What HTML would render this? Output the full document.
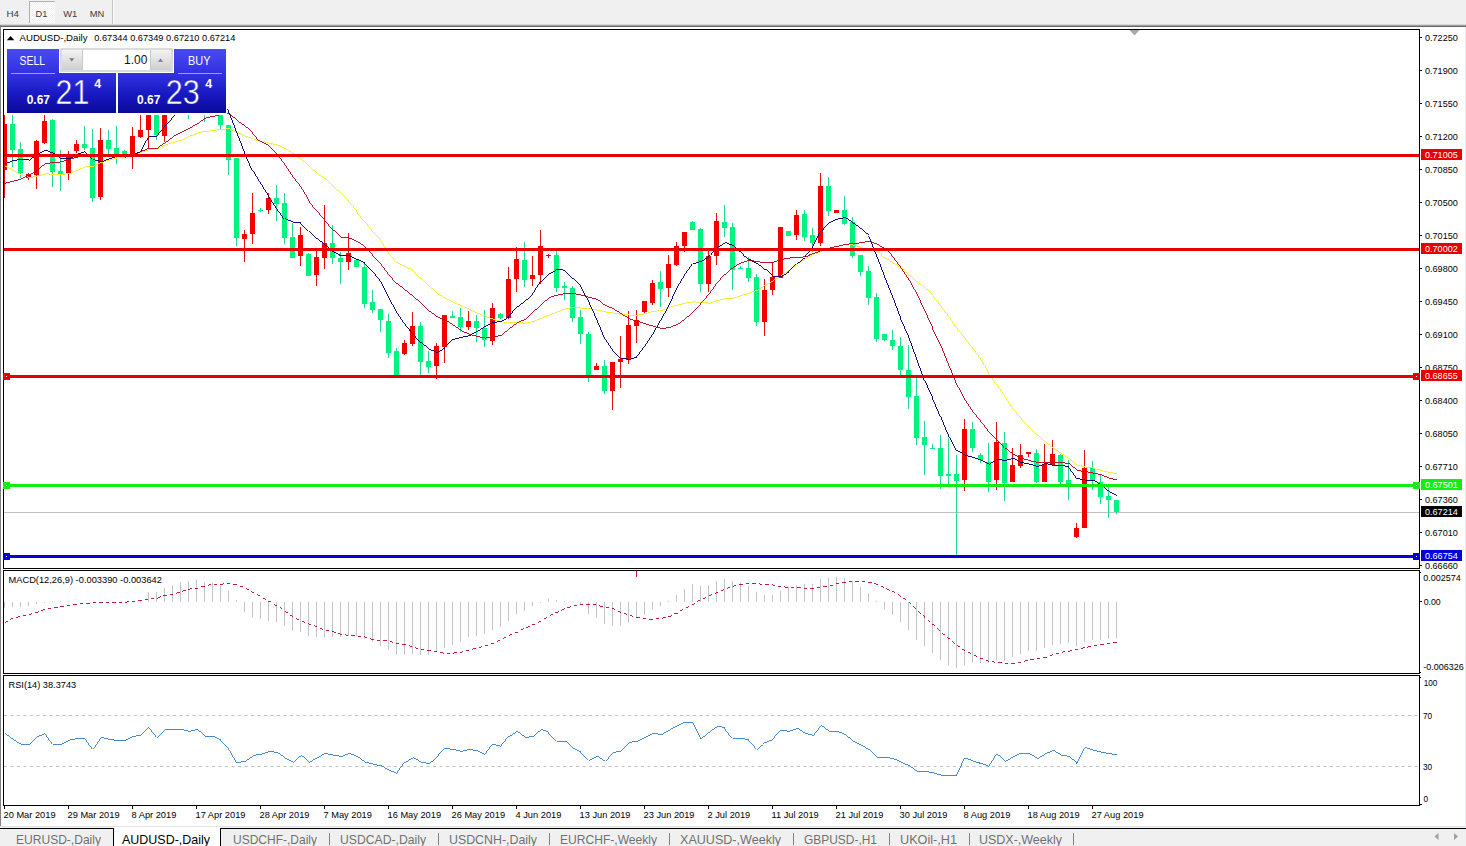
<!DOCTYPE html>
<html><head><meta charset="utf-8"><title>AUDUSD-,Daily</title>
<style>html,body{margin:0;padding:0;background:#fff;overflow:hidden}svg{display:block}text{font-family:"Liberation Sans",sans-serif;white-space:pre}</style></head>
<body>
<svg width="1466" height="846" viewBox="0 0 1466 846" font-family='"Liberation Sans", sans-serif'>
<rect x="0" y="0" width="1466" height="846" fill="#fff"/>
<rect x="0" y="0" width="1466" height="25" fill="#F0F0F0"/>
<pattern id="ck" width="2" height="2" patternUnits="userSpaceOnUse"><rect width="2" height="2" fill="#F0F0F0"/><rect width="1" height="1" fill="#fff"/><rect x="1" y="1" width="1" height="1" fill="#fff"/></pattern>
<rect x="29" y="1" width="26" height="22" fill="url(#ck)"/>
<rect x="29" y="1" width="26" height="1" fill="#B0B0B0"/>
<rect x="29" y="1" width="1" height="22" fill="#B0B0B0"/>
<rect x="112" y="0" width="1" height="24" fill="#C4C4C4"/>
<rect x="113" y="0" width="1" height="24" fill="#FAFAFA"/>
<text x="6.5" y="17" font-size="9.4" fill="#3a3a3a" textLength="12.5" lengthAdjust="spacingAndGlyphs">H4</text>
<text x="35.5" y="17" font-size="9.4" fill="#3a3a3a" textLength="11.8" lengthAdjust="spacingAndGlyphs">D1</text>
<text x="63.3" y="17" font-size="9.4" fill="#3a3a3a" textLength="14" lengthAdjust="spacingAndGlyphs">W1</text>
<text x="89.8" y="17" font-size="9.4" fill="#3a3a3a" textLength="14.5" lengthAdjust="spacingAndGlyphs">MN</text>
<rect x="0" y="24" width="1466" height="1" fill="#D8D8D8"/>
<rect x="0" y="25" width="1466" height="1" fill="#A0A0A0"/>
<rect x="0" y="26" width="1466" height="1" fill="#696969"/>
<rect x="0" y="25" width="1" height="802" fill="#808080"/>
<rect x="1465" y="27" width="1" height="800" fill="#E6E9EC"/>
<rect x="3" y="29" width="1417" height="1" fill="#000"/>
<rect x="3" y="568" width="1417" height="1" fill="#000"/>
<rect x="3" y="29" width="1" height="540" fill="#000"/>
<rect x="1419" y="29" width="1" height="540" fill="#000"/>
<rect x="3" y="570" width="1417" height="1" fill="#000"/>
<rect x="3" y="673" width="1417" height="1" fill="#000"/>
<rect x="3" y="570" width="1" height="104" fill="#000"/>
<rect x="1419" y="570" width="1" height="104" fill="#000"/>
<rect x="3" y="675" width="1417" height="1" fill="#000"/>
<rect x="3" y="805" width="1417" height="1" fill="#000"/>
<rect x="3" y="675" width="1" height="131" fill="#000"/>
<rect x="1419" y="675" width="1" height="131" fill="#000"/>
<clipPath id="cm"><rect x="4" y="30" width="1415" height="538"/></clipPath>
<g clip-path="url(#cm)">
<rect x="4" y="512" width="1415" height="1" fill="#C0C0C0"/>
<g shape-rendering="crispEdges">
<rect x="4" y="109" width="1" height="89" fill="#E01010"/>
<rect x="2" y="124" width="5" height="46" fill="#F40000"/>
<rect x="12" y="115" width="1" height="52" fill="#22DC8C"/>
<rect x="10" y="124" width="5" height="26" fill="#02F47E"/>
<rect x="20" y="142" width="1" height="36" fill="#22DC8C"/>
<rect x="18" y="149" width="5" height="24" fill="#02F47E"/>
<rect x="28" y="173" width="1" height="7" fill="#E01010"/>
<rect x="26" y="174" width="5" height="4" fill="#F40000"/>
<rect x="36" y="140" width="1" height="49" fill="#E01010"/>
<rect x="34" y="141" width="5" height="34" fill="#F40000"/>
<rect x="44" y="115" width="1" height="29" fill="#E01010"/>
<rect x="42" y="121" width="5" height="22" fill="#F40000"/>
<rect x="52" y="119" width="1" height="68" fill="#22DC8C"/>
<rect x="50" y="120" width="5" height="52" fill="#02F47E"/>
<rect x="60" y="150" width="1" height="41" fill="#22DC8C"/>
<rect x="58" y="171" width="5" height="3" fill="#02F47E"/>
<rect x="68" y="151" width="1" height="29" fill="#E01010"/>
<rect x="66" y="157" width="5" height="17" fill="#F40000"/>
<rect x="76" y="140" width="1" height="13" fill="#E01010"/>
<rect x="74" y="144" width="5" height="7" fill="#F40000"/>
<rect x="84" y="126" width="1" height="24" fill="#22DC8C"/>
<rect x="82" y="144" width="5" height="4" fill="#02F47E"/>
<rect x="92" y="129" width="1" height="73" fill="#22DC8C"/>
<rect x="90" y="148" width="5" height="50" fill="#02F47E"/>
<rect x="100" y="128" width="1" height="72" fill="#E01010"/>
<rect x="98" y="140" width="5" height="57" fill="#F40000"/>
<rect x="108" y="130" width="1" height="24" fill="#22DC8C"/>
<rect x="106" y="140" width="5" height="9" fill="#02F47E"/>
<rect x="116" y="126" width="1" height="38" fill="#22DC8C"/>
<rect x="114" y="148" width="5" height="8" fill="#02F47E"/>
<rect x="124" y="150" width="1" height="5" fill="#22DC8C"/>
<rect x="122" y="151" width="5" height="3" fill="#02F47E"/>
<rect x="132" y="127" width="1" height="42" fill="#E01010"/>
<rect x="130" y="136" width="5" height="20" fill="#F40000"/>
<rect x="140" y="113" width="1" height="25" fill="#E01010"/>
<rect x="138" y="130" width="5" height="7" fill="#F40000"/>
<rect x="148" y="100" width="1" height="48" fill="#E01010"/>
<rect x="146" y="105" width="5" height="25" fill="#F40000"/>
<rect x="156" y="100" width="1" height="40" fill="#22DC8C"/>
<rect x="154" y="104" width="5" height="31" fill="#02F47E"/>
<rect x="164" y="100" width="1" height="42" fill="#E01010"/>
<rect x="162" y="102" width="5" height="34" fill="#F40000"/>
<rect x="172" y="90" width="1" height="22" fill="#E01010"/>
<rect x="170" y="95" width="5" height="13" fill="#F40000"/>
<rect x="180" y="85" width="1" height="28" fill="#22DC8C"/>
<rect x="178" y="90" width="5" height="20" fill="#02F47E"/>
<rect x="188" y="85" width="1" height="34" fill="#22DC8C"/>
<rect x="186" y="90" width="5" height="18" fill="#02F47E"/>
<rect x="196" y="85" width="1" height="27" fill="#22DC8C"/>
<rect x="194" y="92" width="5" height="13" fill="#02F47E"/>
<rect x="204" y="88" width="1" height="34" fill="#22DC8C"/>
<rect x="202" y="95" width="5" height="15" fill="#02F47E"/>
<rect x="212" y="90" width="1" height="22" fill="#E01010"/>
<rect x="210" y="95" width="5" height="13" fill="#F40000"/>
<rect x="220" y="92" width="1" height="38" fill="#22DC8C"/>
<rect x="218" y="100" width="5" height="25" fill="#02F47E"/>
<rect x="228" y="125" width="1" height="50" fill="#22DC8C"/>
<rect x="226" y="125" width="5" height="35" fill="#02F47E"/>
<rect x="236" y="158" width="1" height="88" fill="#22DC8C"/>
<rect x="234" y="158" width="5" height="80" fill="#02F47E"/>
<rect x="244" y="230" width="1" height="32" fill="#E01010"/>
<rect x="242" y="234" width="5" height="5" fill="#F40000"/>
<rect x="252" y="193" width="1" height="51" fill="#E01010"/>
<rect x="250" y="213" width="5" height="21" fill="#F40000"/>
<rect x="260" y="208" width="1" height="4" fill="#22DC8C"/>
<rect x="258" y="210" width="5" height="1" fill="#02F47E"/>
<rect x="268" y="193" width="1" height="21" fill="#E01010"/>
<rect x="266" y="198" width="5" height="12" fill="#F40000"/>
<rect x="276" y="185" width="1" height="36" fill="#22DC8C"/>
<rect x="274" y="198" width="5" height="6" fill="#02F47E"/>
<rect x="284" y="193" width="1" height="51" fill="#22DC8C"/>
<rect x="282" y="203" width="5" height="35" fill="#02F47E"/>
<rect x="292" y="223" width="1" height="35" fill="#22DC8C"/>
<rect x="290" y="237" width="5" height="21" fill="#02F47E"/>
<rect x="300" y="227" width="1" height="39" fill="#E01010"/>
<rect x="298" y="235" width="5" height="21" fill="#F40000"/>
<rect x="308" y="253" width="1" height="23" fill="#22DC8C"/>
<rect x="306" y="254" width="5" height="22" fill="#02F47E"/>
<rect x="316" y="251" width="1" height="35" fill="#E01010"/>
<rect x="314" y="257" width="5" height="18" fill="#F40000"/>
<rect x="324" y="205" width="1" height="64" fill="#E01010"/>
<rect x="322" y="243" width="5" height="15" fill="#F40000"/>
<rect x="332" y="225" width="1" height="39" fill="#22DC8C"/>
<rect x="330" y="243" width="5" height="15" fill="#02F47E"/>
<rect x="340" y="252" width="1" height="32" fill="#22DC8C"/>
<rect x="338" y="258" width="5" height="4" fill="#02F47E"/>
<rect x="348" y="233" width="1" height="37" fill="#E01010"/>
<rect x="346" y="253" width="5" height="9" fill="#F40000"/>
<rect x="356" y="260" width="1" height="7" fill="#22DC8C"/>
<rect x="354" y="260" width="5" height="7" fill="#02F47E"/>
<rect x="364" y="264" width="1" height="44" fill="#22DC8C"/>
<rect x="362" y="267" width="5" height="37" fill="#02F47E"/>
<rect x="372" y="290" width="1" height="23" fill="#22DC8C"/>
<rect x="370" y="302" width="5" height="8" fill="#02F47E"/>
<rect x="380" y="309" width="1" height="23" fill="#22DC8C"/>
<rect x="378" y="309" width="5" height="11" fill="#02F47E"/>
<rect x="388" y="314" width="1" height="44" fill="#22DC8C"/>
<rect x="386" y="321" width="5" height="32" fill="#02F47E"/>
<rect x="396" y="348" width="1" height="28" fill="#22DC8C"/>
<rect x="394" y="351" width="5" height="25" fill="#02F47E"/>
<rect x="404" y="340" width="1" height="15" fill="#E01010"/>
<rect x="402" y="343" width="5" height="11" fill="#F40000"/>
<rect x="412" y="312" width="1" height="34" fill="#E01010"/>
<rect x="410" y="326" width="5" height="18" fill="#F40000"/>
<rect x="420" y="322" width="1" height="53" fill="#22DC8C"/>
<rect x="418" y="326" width="5" height="36" fill="#02F47E"/>
<rect x="428" y="351" width="1" height="22" fill="#22DC8C"/>
<rect x="426" y="361" width="5" height="6" fill="#02F47E"/>
<rect x="436" y="343" width="1" height="36" fill="#E01010"/>
<rect x="434" y="346" width="5" height="20" fill="#F40000"/>
<rect x="444" y="315" width="1" height="48" fill="#E01010"/>
<rect x="442" y="315" width="5" height="32" fill="#F40000"/>
<rect x="452" y="311" width="1" height="7" fill="#22DC8C"/>
<rect x="450" y="316" width="5" height="2" fill="#02F47E"/>
<rect x="460" y="308" width="1" height="24" fill="#22DC8C"/>
<rect x="458" y="317" width="5" height="10" fill="#02F47E"/>
<rect x="468" y="311" width="1" height="19" fill="#E01010"/>
<rect x="466" y="321" width="5" height="6" fill="#F40000"/>
<rect x="476" y="315" width="1" height="27" fill="#22DC8C"/>
<rect x="474" y="321" width="5" height="7" fill="#02F47E"/>
<rect x="484" y="310" width="1" height="37" fill="#22DC8C"/>
<rect x="482" y="328" width="5" height="12" fill="#02F47E"/>
<rect x="492" y="303" width="1" height="42" fill="#E01010"/>
<rect x="490" y="308" width="5" height="33" fill="#F40000"/>
<rect x="500" y="313" width="1" height="6" fill="#22DC8C"/>
<rect x="498" y="314" width="5" height="4" fill="#02F47E"/>
<rect x="508" y="267" width="1" height="52" fill="#E01010"/>
<rect x="506" y="279" width="5" height="39" fill="#F40000"/>
<rect x="516" y="247" width="1" height="45" fill="#E01010"/>
<rect x="514" y="259" width="5" height="20" fill="#F40000"/>
<rect x="524" y="242" width="1" height="45" fill="#22DC8C"/>
<rect x="522" y="260" width="5" height="20" fill="#02F47E"/>
<rect x="532" y="256" width="1" height="30" fill="#E01010"/>
<rect x="530" y="275" width="5" height="4" fill="#F40000"/>
<rect x="540" y="230" width="1" height="54" fill="#E01010"/>
<rect x="538" y="246" width="5" height="29" fill="#F40000"/>
<rect x="548" y="254" width="1" height="4" fill="#E01010"/>
<rect x="546" y="255" width="5" height="1" fill="#F40000"/>
<rect x="556" y="251" width="1" height="41" fill="#22DC8C"/>
<rect x="554" y="255" width="5" height="33" fill="#02F47E"/>
<rect x="564" y="282" width="1" height="18" fill="#22DC8C"/>
<rect x="562" y="286" width="5" height="2" fill="#02F47E"/>
<rect x="572" y="286" width="1" height="36" fill="#22DC8C"/>
<rect x="570" y="288" width="5" height="30" fill="#02F47E"/>
<rect x="580" y="310" width="1" height="34" fill="#22DC8C"/>
<rect x="578" y="317" width="5" height="17" fill="#02F47E"/>
<rect x="588" y="332" width="1" height="50" fill="#22DC8C"/>
<rect x="586" y="334" width="5" height="44" fill="#02F47E"/>
<rect x="596" y="363" width="1" height="7" fill="#E01010"/>
<rect x="594" y="366" width="5" height="4" fill="#F40000"/>
<rect x="604" y="360" width="1" height="34" fill="#22DC8C"/>
<rect x="602" y="366" width="5" height="25" fill="#02F47E"/>
<rect x="612" y="362" width="1" height="48" fill="#E01010"/>
<rect x="610" y="362" width="5" height="29" fill="#F40000"/>
<rect x="620" y="336" width="1" height="52" fill="#E01010"/>
<rect x="618" y="359" width="5" height="3" fill="#F40000"/>
<rect x="628" y="311" width="1" height="53" fill="#E01010"/>
<rect x="626" y="325" width="5" height="35" fill="#F40000"/>
<rect x="636" y="310" width="1" height="33" fill="#E01010"/>
<rect x="634" y="320" width="5" height="6" fill="#F40000"/>
<rect x="644" y="301" width="1" height="13" fill="#E01010"/>
<rect x="642" y="301" width="5" height="11" fill="#F40000"/>
<rect x="652" y="280" width="1" height="25" fill="#E01010"/>
<rect x="650" y="283" width="5" height="20" fill="#F40000"/>
<rect x="660" y="271" width="1" height="36" fill="#22DC8C"/>
<rect x="658" y="282" width="5" height="7" fill="#02F47E"/>
<rect x="668" y="255" width="1" height="42" fill="#E01010"/>
<rect x="666" y="264" width="5" height="24" fill="#F40000"/>
<rect x="676" y="242" width="1" height="24" fill="#E01010"/>
<rect x="674" y="246" width="5" height="19" fill="#F40000"/>
<rect x="684" y="232" width="1" height="20" fill="#E01010"/>
<rect x="682" y="232" width="5" height="14" fill="#F40000"/>
<rect x="692" y="221" width="1" height="9" fill="#22DC8C"/>
<rect x="690" y="222" width="5" height="8" fill="#02F47E"/>
<rect x="700" y="228" width="1" height="64" fill="#22DC8C"/>
<rect x="698" y="229" width="5" height="55" fill="#02F47E"/>
<rect x="708" y="250" width="1" height="42" fill="#E01010"/>
<rect x="706" y="256" width="5" height="28" fill="#F40000"/>
<rect x="716" y="213" width="1" height="52" fill="#E01010"/>
<rect x="714" y="221" width="5" height="35" fill="#F40000"/>
<rect x="724" y="205" width="1" height="32" fill="#22DC8C"/>
<rect x="722" y="222" width="5" height="6" fill="#02F47E"/>
<rect x="732" y="223" width="1" height="67" fill="#22DC8C"/>
<rect x="730" y="227" width="5" height="43" fill="#02F47E"/>
<rect x="740" y="266" width="1" height="3" fill="#22DC8C"/>
<rect x="738" y="268" width="5" height="1" fill="#02F47E"/>
<rect x="748" y="257" width="1" height="25" fill="#22DC8C"/>
<rect x="746" y="268" width="5" height="10" fill="#02F47E"/>
<rect x="756" y="274" width="1" height="52" fill="#22DC8C"/>
<rect x="754" y="277" width="5" height="45" fill="#02F47E"/>
<rect x="764" y="279" width="1" height="57" fill="#E01010"/>
<rect x="762" y="290" width="5" height="32" fill="#F40000"/>
<rect x="772" y="262" width="1" height="33" fill="#E01010"/>
<rect x="770" y="277" width="5" height="13" fill="#F40000"/>
<rect x="780" y="227" width="1" height="51" fill="#E01010"/>
<rect x="778" y="227" width="5" height="51" fill="#F40000"/>
<rect x="788" y="231" width="1" height="5" fill="#22DC8C"/>
<rect x="786" y="231" width="5" height="5" fill="#02F47E"/>
<rect x="796" y="210" width="1" height="30" fill="#E01010"/>
<rect x="794" y="215" width="5" height="20" fill="#F40000"/>
<rect x="804" y="210" width="1" height="31" fill="#22DC8C"/>
<rect x="802" y="214" width="5" height="23" fill="#02F47E"/>
<rect x="812" y="228" width="1" height="24" fill="#22DC8C"/>
<rect x="810" y="235" width="5" height="8" fill="#02F47E"/>
<rect x="820" y="173" width="1" height="73" fill="#E01010"/>
<rect x="818" y="186" width="5" height="57" fill="#F40000"/>
<rect x="828" y="177" width="1" height="39" fill="#22DC8C"/>
<rect x="826" y="186" width="5" height="25" fill="#02F47E"/>
<rect x="836" y="210" width="1" height="3" fill="#E01010"/>
<rect x="834" y="210" width="5" height="3" fill="#F40000"/>
<rect x="844" y="196" width="1" height="29" fill="#22DC8C"/>
<rect x="842" y="210" width="5" height="14" fill="#02F47E"/>
<rect x="852" y="217" width="1" height="41" fill="#22DC8C"/>
<rect x="850" y="222" width="5" height="34" fill="#02F47E"/>
<rect x="860" y="255" width="1" height="21" fill="#22DC8C"/>
<rect x="858" y="255" width="5" height="17" fill="#02F47E"/>
<rect x="868" y="266" width="1" height="39" fill="#22DC8C"/>
<rect x="866" y="271" width="5" height="27" fill="#02F47E"/>
<rect x="876" y="293" width="1" height="49" fill="#22DC8C"/>
<rect x="874" y="297" width="5" height="42" fill="#02F47E"/>
<rect x="884" y="334" width="1" height="7" fill="#22DC8C"/>
<rect x="882" y="334" width="5" height="6" fill="#02F47E"/>
<rect x="892" y="330" width="1" height="20" fill="#22DC8C"/>
<rect x="890" y="340" width="5" height="6" fill="#02F47E"/>
<rect x="900" y="337" width="1" height="38" fill="#22DC8C"/>
<rect x="898" y="346" width="5" height="24" fill="#02F47E"/>
<rect x="908" y="345" width="1" height="64" fill="#22DC8C"/>
<rect x="906" y="370" width="5" height="27" fill="#02F47E"/>
<rect x="916" y="378" width="1" height="67" fill="#22DC8C"/>
<rect x="914" y="396" width="5" height="42" fill="#02F47E"/>
<rect x="924" y="421" width="1" height="54" fill="#22DC8C"/>
<rect x="922" y="437" width="5" height="8" fill="#02F47E"/>
<rect x="932" y="444" width="1" height="5" fill="#22DC8C"/>
<rect x="930" y="448" width="5" height="1" fill="#02F47E"/>
<rect x="940" y="435" width="1" height="54" fill="#22DC8C"/>
<rect x="938" y="448" width="5" height="28" fill="#02F47E"/>
<rect x="948" y="438" width="1" height="47" fill="#22DC8C"/>
<rect x="946" y="474" width="5" height="2" fill="#02F47E"/>
<rect x="956" y="455" width="1" height="101" fill="#22DC8C"/>
<rect x="954" y="474" width="5" height="7" fill="#02F47E"/>
<rect x="964" y="419" width="1" height="72" fill="#E01010"/>
<rect x="962" y="429" width="5" height="51" fill="#F40000"/>
<rect x="972" y="422" width="1" height="30" fill="#22DC8C"/>
<rect x="970" y="429" width="5" height="19" fill="#02F47E"/>
<rect x="980" y="453" width="1" height="10" fill="#22DC8C"/>
<rect x="978" y="455" width="5" height="5" fill="#02F47E"/>
<rect x="988" y="443" width="1" height="49" fill="#22DC8C"/>
<rect x="986" y="462" width="5" height="20" fill="#02F47E"/>
<rect x="996" y="422" width="1" height="68" fill="#E01010"/>
<rect x="994" y="442" width="5" height="38" fill="#F40000"/>
<rect x="1004" y="432" width="1" height="69" fill="#22DC8C"/>
<rect x="1002" y="443" width="5" height="40" fill="#02F47E"/>
<rect x="1012" y="448" width="1" height="34" fill="#E01010"/>
<rect x="1010" y="465" width="5" height="17" fill="#F40000"/>
<rect x="1020" y="444" width="1" height="24" fill="#E01010"/>
<rect x="1018" y="455" width="5" height="11" fill="#F40000"/>
<rect x="1028" y="452" width="1" height="5" fill="#E01010"/>
<rect x="1026" y="452" width="5" height="2" fill="#F40000"/>
<rect x="1036" y="449" width="1" height="34" fill="#22DC8C"/>
<rect x="1034" y="453" width="5" height="29" fill="#02F47E"/>
<rect x="1044" y="444" width="1" height="38" fill="#E01010"/>
<rect x="1042" y="464" width="5" height="18" fill="#F40000"/>
<rect x="1052" y="440" width="1" height="25" fill="#E01010"/>
<rect x="1050" y="454" width="5" height="11" fill="#F40000"/>
<rect x="1060" y="454" width="1" height="30" fill="#22DC8C"/>
<rect x="1058" y="455" width="5" height="27" fill="#02F47E"/>
<rect x="1068" y="460" width="1" height="40" fill="#22DC8C"/>
<rect x="1066" y="480" width="5" height="7" fill="#02F47E"/>
<rect x="1076" y="523" width="1" height="15" fill="#E01010"/>
<rect x="1074" y="528" width="5" height="9" fill="#F40000"/>
<rect x="1084" y="450" width="1" height="78" fill="#E01010"/>
<rect x="1082" y="468" width="5" height="60" fill="#F40000"/>
<rect x="1092" y="461" width="1" height="29" fill="#22DC8C"/>
<rect x="1090" y="468" width="5" height="12" fill="#02F47E"/>
<rect x="1100" y="474" width="1" height="30" fill="#22DC8C"/>
<rect x="1098" y="482" width="5" height="15" fill="#02F47E"/>
<rect x="1108" y="484" width="1" height="34" fill="#22DC8C"/>
<rect x="1106" y="496" width="5" height="4" fill="#02F47E"/>
<rect x="1116" y="500" width="1" height="14" fill="#22DC8C"/>
<rect x="1114" y="500" width="5" height="12" fill="#02F47E"/>
</g>
<polyline shape-rendering="crispEdges" points="4.5,166.25 12.5,170.6 20.5,175 28.5,177.5 36.5,176.25 44.5,173.75 52.5,174.4 60.5,174.4 68.5,173.75 76.5,170 84.5,166.9 92.5,166.25 100.5,162.5 108.5,160 116.5,158.1 124.5,157.25 132.5,155 140.5,152.25 148.5,149.4 156.5,148.75 164.5,145 172.5,142.3 180.5,140 188.5,136.25 196.5,133.1 204.5,131.25 212.5,130.6 220.5,129.4 228.5,128.75 236.5,132.5 244.5,136.25 252.5,138.75 260.5,141.25 268.5,143.1 276.5,145 284.5,148.75 292.5,153.75 300.5,159.4 308.5,166.25 316.5,173.75 324.5,178.75 332.5,186.25 340.5,193.75 348.5,201.25 356.5,210.5 364.5,221.25 372.5,231.25 380.5,240 388.5,253.1 396.5,262.5 404.5,266.9 412.5,270 420.5,278.75 428.5,286.25 436.5,293.4 444.5,298.4 452.5,302.5 460.5,305.6 468.5,309.4 476.5,313.1 484.5,316.25 492.5,319.4 500.5,321.9 508.5,322.75 516.5,322.75 524.5,323.1 532.5,321.5 540.5,318.1 548.5,315 556.5,311.9 564.5,308.75 572.5,307.5 580.5,308.1 588.5,308.75 596.5,310 604.5,311.9 612.5,313.1 620.5,314.4 628.5,315 636.5,315 644.5,313.75 652.5,311.25 660.5,310.6 668.5,307.5 676.5,305 684.5,303.1 692.5,301.9 700.5,302.5 708.5,303.1 716.5,300.6 724.5,298.75 732.5,298.1 740.5,295.6 748.5,293.1 756.5,290 764.5,285.6 772.5,280.6 780.5,275.6 788.5,270 796.5,263.75 804.5,258.75 812.5,254.4 820.5,251.25 828.5,248.1 836.5,246.25 844.5,244.4 852.5,245 860.5,247.5 868.5,249.5 876.5,251.25 884.5,258 892.5,263.1 900.5,268.1 908.5,275 916.5,281.9 924.5,288.1 932.5,295.6 940.5,305.6 948.5,316.25 956.5,327.8 964.5,337.8 972.5,348.1 980.5,358.75 988.5,372.5 996.5,383.75 1004.5,396.25 1012.5,408.1 1020.5,417.8 1028.5,426.9 1036.5,435 1044.5,441.9 1052.5,448.1 1060.5,453.4 1068.5,458.75 1076.5,465 1084.5,466.9 1092.5,468.1 1100.5,470.6 1108.5,472.25 1116.5,474" fill="none" stroke="#F2EC30" stroke-width="0.95"/>
<polyline shape-rendering="crispEdges" points="4.5,183.1 12.5,181.25 20.5,178.75 28.5,175 36.5,170 44.5,163.5 52.5,162.5 60.5,161.9 68.5,159.4 76.5,157 84.5,155.5 92.5,156 100.5,156.5 108.5,156.5 116.5,156.8 124.5,157 132.5,155 140.5,151.25 148.5,148.1 156.5,148.1 164.5,142.5 172.5,136.5 180.5,132 188.5,128.1 196.5,123.75 204.5,118.1 212.5,116.25 220.5,114.5 228.5,113.5 236.5,120.6 244.5,126.25 252.5,133.1 258.5,140.6 260.5,141.9 268.5,145.6 276.5,153.75 284.5,163.75 292.5,176.25 300.5,186.25 308.5,199.5 316.5,210.3 324.5,220 332.5,230 340.5,237.25 348.5,238.1 356.5,241.5 364.5,246.9 372.5,255 380.5,263.75 388.5,274.4 396.5,283.75 404.5,290 412.5,296.6 420.5,303.1 428.5,311 436.5,316.9 444.5,320 452.5,325 460.5,330.6 468.5,334.4 476.5,336.5 484.5,338.1 492.5,337.25 500.5,335 508.5,328.75 516.5,322.5 524.5,319.4 532.5,311.8 540.5,304.4 548.5,297.5 556.5,295 564.5,293.5 572.5,293.5 580.5,295 588.5,297.5 596.5,299.4 604.5,305.6 612.5,308.75 620.5,313.75 628.5,318.75 636.5,321.25 644.5,323.75 652.5,326.25 660.5,328.5 668.5,327.5 676.5,324.4 684.5,318.9 692.5,311.25 700.5,303.75 708.5,294.7 716.5,283.75 724.5,274.4 732.5,267.2 740.5,262.8 748.5,260.1 756.5,261.9 764.5,262.25 772.5,262.25 780.5,259.4 788.5,258.1 796.5,257.25 804.5,256.9 812.5,253.75 820.5,250.6 828.5,248 836.5,246.25 844.5,244.4 852.5,243.5 860.5,242.75 868.5,241 876.5,244.4 884.5,248.8 892.5,256.25 900.5,266.9 908.5,278.75 916.5,293.1 924.5,310 932.5,327.5 940.5,344.4 948.5,364.4 956.5,383.75 964.5,398.75 972.5,411 980.5,421 988.5,431.25 996.5,439.4 1004.5,448.1 1012.5,454.4 1020.5,458.1 1028.5,460.6 1036.5,462.25 1044.5,462.9 1052.5,462.4 1060.5,462.6 1068.5,463.5 1076.5,470.6 1084.5,471.5 1092.5,473.1 1100.5,474.75 1108.5,478.1 1116.5,480.25" fill="none" stroke="#B40A24" stroke-width="0.95"/>
<polyline shape-rendering="crispEdges" points="4.5,163.75 12.5,160.6 20.5,159.4 28.5,160 36.5,154.4 44.5,150.25 52.5,153.1 60.5,158.75 68.5,158.75 76.5,154.4 84.5,151.25 92.5,159.4 100.5,161.9 108.5,158.75 116.5,156.25 124.5,155 132.5,154.4 140.5,151.5 148.5,136.9 156.5,136.5 164.5,126.9 175,115 182,105 196,96 212,95 220.5,98 228.5,111.25 236.5,131.9 244.5,152.5 252.5,170 260.5,183.1 268.5,195.5 276.5,207.5 284.5,218.75 292.5,222.25 300.5,222.5 308.5,230.6 316.5,238.75 324.5,245 332.5,251.9 340.5,255.6 348.5,255.6 356.5,259.5 364.5,263.1 372.5,271.25 380.5,281.25 388.5,297 396.5,311.9 404.5,323.75 412.5,333.75 420.5,342.5 428.5,349.4 436.5,352.5 444.5,347.5 452.5,339.4 460.5,337.25 468.5,335.6 476.5,331.25 484.5,326.25 492.5,322.5 500.5,321.25 508.5,316.9 516.5,306.9 524.5,300.8 532.5,294 540.5,281.25 548.5,273.75 556.5,269.4 564.5,270.25 572.5,278.75 580.5,286.25 588.5,301.25 596.5,319 604.5,338.1 612.5,350 620.5,358.1 628.5,359.4 636.5,356.9 644.5,346.25 652.5,334.4 660.5,320.6 668.5,306.25 676.5,288.75 684.5,275 692.5,263.75 700.5,261.25 708.5,256.25 716.5,247.5 724.5,242.5 732.5,245.8 740.5,252.8 748.5,259.4 756.5,263.75 764.5,269 772.5,276.25 780.5,276.25 788.5,271.9 796.5,263.75 804.5,257.2 812.5,247.2 820.5,231.25 828.5,222.5 836.5,219 844.5,217.5 852.5,223.1 860.5,228.75 868.5,235.6 876.5,255.3 884.5,276.25 892.5,296.25 900.5,317.5 908.5,335.5 916.5,357.5 924.5,380 932.5,397.5 940.5,416.2 948.5,435.6 956.5,450.6 964.5,455.25 972.5,457.5 980.5,460 988.5,464 996.5,459.4 1004.5,460.6 1012.5,458.1 1020.5,462.5 1028.5,464 1036.5,466.5 1044.5,463.5 1052.5,465.25 1060.5,465.25 1068.5,466.9 1076.5,478.5 1084.5,480 1092.5,480.25 1100.5,484.75 1108.5,491.9 1116.5,496" fill="none" stroke="#000078" stroke-width="0.95"/>
<rect x="4" y="154" width="1415" height="3" fill="#E60000"/>
<rect x="4" y="248" width="1415" height="3" fill="#E60000"/>
<rect x="4" y="375" width="1415" height="3" fill="#E60000"/>
<rect x="4" y="484" width="1415" height="3" fill="#12EE12"/>
<rect x="4" y="555" width="1415" height="3" fill="#0000DC"/>
</g>
<rect x="3" y="373" width="7" height="7" fill="#E60000"/>
<rect x="6" y="376" width="1" height="1" fill="#fff"/>
<rect x="1413" y="373" width="7" height="7" fill="#E60000"/>
<rect x="1416" y="376" width="1" height="1" fill="#fff"/>
<rect x="3" y="482" width="7" height="7" fill="#12EE12"/>
<rect x="6" y="485" width="1" height="1" fill="#fff"/>
<rect x="1413" y="482" width="7" height="7" fill="#12EE12"/>
<rect x="1416" y="485" width="1" height="1" fill="#fff"/>
<rect x="3" y="553" width="7" height="7" fill="#0000DC"/>
<rect x="6" y="556" width="1" height="1" fill="#fff"/>
<rect x="1413" y="553" width="7" height="7" fill="#0000DC"/>
<rect x="1416" y="556" width="1" height="1" fill="#fff"/>
<polygon points="1129.5,30 1139.5,30 1134.5,35.5" fill="#A8A8A8"/>
<rect x="4" y="30" width="223" height="85" fill="#fff"/>
<defs>
<linearGradient id="gb" x1="0" y1="0" x2="0" y2="1"><stop offset="0" stop-color="#4A4AF4"/><stop offset="1" stop-color="#3030E0"/></linearGradient>
<linearGradient id="gp" gradientUnits="userSpaceOnUse" x1="0" y1="73" x2="0" y2="113"><stop offset="0" stop-color="#3232E2"/><stop offset="0.55" stop-color="#1818C0"/><stop offset="1" stop-color="#0A0A98"/></linearGradient>
<linearGradient id="gs" x1="0" y1="0" x2="0" y2="1"><stop offset="0" stop-color="#F2F2F2"/><stop offset="1" stop-color="#CFCFCF"/></linearGradient>
</defs>
<rect x="7" y="49" width="52" height="25" fill="url(#gb)"/>
<rect x="174" y="49" width="52" height="25" fill="url(#gb)"/>
<rect x="7" y="73" width="109" height="40" fill="url(#gp)"/>
<rect x="118" y="73" width="108" height="40" fill="url(#gp)"/>
<rect x="11" y="73" width="44" height="1" fill="#9C9CF4"/>
<rect x="178" y="73" width="44" height="1" fill="#9C9CF4"/>
<rect x="61" y="49" width="111" height="22" fill="#fff" stroke="#B8B8B8" stroke-width="1"/>
<rect x="62" y="50" width="20" height="20" fill="url(#gs)"/>
<rect x="151" y="50" width="20" height="20" fill="url(#gs)"/>
<rect x="82" y="50" width="1" height="20" fill="#C8C8C8"/>
<rect x="150" y="50" width="1" height="20" fill="#C8C8C8"/>
<polygon points="69.2,58.2 74.2,58.2 71.7,61.4" fill="#76768C"/>
<polygon points="158,61.8 163,61.8 160.5,58.4" fill="#76768C"/>
<text x="147.3" y="63.9" font-size="12.4" fill="#111" text-anchor="end" textLength="23.3" lengthAdjust="spacingAndGlyphs">1.00</text>
<text x="19.5" y="65" font-size="12.4" fill="#fff" textLength="25.5" lengthAdjust="spacingAndGlyphs">SELL</text>
<text x="188" y="65" font-size="12.4" fill="#fff" textLength="22.5" lengthAdjust="spacingAndGlyphs">BUY</text>
<text x="26.7" y="103.9" font-size="12.6" fill="#fff" font-weight="bold" textLength="23.3" lengthAdjust="spacingAndGlyphs">0.67</text>
<text x="55.5" y="103.9" font-size="34.7" fill="#fff" textLength="33.8" lengthAdjust="spacingAndGlyphs" stroke="url(#gp)" stroke-width="0.5">21</text>
<text x="94.2" y="88" font-size="12.8" fill="#fff" font-weight="bold" textLength="6.9" lengthAdjust="spacingAndGlyphs">4</text>
<text x="137" y="103.9" font-size="12.6" fill="#fff" font-weight="bold" textLength="23.3" lengthAdjust="spacingAndGlyphs">0.67</text>
<text x="165.8" y="103.9" font-size="34.7" fill="#fff" textLength="34" lengthAdjust="spacingAndGlyphs" stroke="url(#gp)" stroke-width="0.5">23</text>
<text x="205.2" y="88" font-size="12.8" fill="#fff" font-weight="bold" textLength="6.9" lengthAdjust="spacingAndGlyphs">4</text>
<polygon points="6.8,40.3 14.4,40.3 10.6,36" fill="#000"/>
<text x="19.5" y="41" font-size="9.8" fill="#000" textLength="68" lengthAdjust="spacingAndGlyphs">AUDUSD-,Daily</text>
<text x="94.2" y="41" font-size="9.8" fill="#000" textLength="141.2" lengthAdjust="spacingAndGlyphs">0.67344 0.67349 0.67210 0.67214</text>
<rect x="1420" y="37" width="2" height="1" fill="#000"/>
<text x="1425" y="41" font-size="9.8" fill="#000" textLength="32.8" lengthAdjust="spacingAndGlyphs">0.72250</text>
<rect x="1420" y="70" width="2" height="1" fill="#000"/>
<text x="1425" y="74" font-size="9.8" fill="#000" textLength="32.8" lengthAdjust="spacingAndGlyphs">0.71900</text>
<rect x="1420" y="103" width="2" height="1" fill="#000"/>
<text x="1425" y="107" font-size="9.8" fill="#000" textLength="32.8" lengthAdjust="spacingAndGlyphs">0.71550</text>
<rect x="1420" y="136" width="2" height="1" fill="#000"/>
<text x="1425" y="140" font-size="9.8" fill="#000" textLength="32.8" lengthAdjust="spacingAndGlyphs">0.71200</text>
<rect x="1420" y="169" width="2" height="1" fill="#000"/>
<text x="1425" y="173" font-size="9.8" fill="#000" textLength="32.8" lengthAdjust="spacingAndGlyphs">0.70850</text>
<rect x="1420" y="202" width="2" height="1" fill="#000"/>
<text x="1425" y="206" font-size="9.8" fill="#000" textLength="32.8" lengthAdjust="spacingAndGlyphs">0.70500</text>
<rect x="1420" y="235" width="2" height="1" fill="#000"/>
<text x="1425" y="239" font-size="9.8" fill="#000" textLength="32.8" lengthAdjust="spacingAndGlyphs">0.70150</text>
<rect x="1420" y="268" width="2" height="1" fill="#000"/>
<text x="1425" y="272" font-size="9.8" fill="#000" textLength="32.8" lengthAdjust="spacingAndGlyphs">0.69800</text>
<rect x="1420" y="301" width="2" height="1" fill="#000"/>
<text x="1425" y="305" font-size="9.8" fill="#000" textLength="32.8" lengthAdjust="spacingAndGlyphs">0.69450</text>
<rect x="1420" y="334" width="2" height="1" fill="#000"/>
<text x="1425" y="338" font-size="9.8" fill="#000" textLength="32.8" lengthAdjust="spacingAndGlyphs">0.69100</text>
<rect x="1420" y="367" width="2" height="1" fill="#000"/>
<text x="1425" y="371" font-size="9.8" fill="#000" textLength="32.8" lengthAdjust="spacingAndGlyphs">0.68750</text>
<rect x="1420" y="400" width="2" height="1" fill="#000"/>
<text x="1425" y="404" font-size="9.8" fill="#000" textLength="32.8" lengthAdjust="spacingAndGlyphs">0.68400</text>
<rect x="1420" y="433" width="2" height="1" fill="#000"/>
<text x="1425" y="437" font-size="9.8" fill="#000" textLength="32.8" lengthAdjust="spacingAndGlyphs">0.68050</text>
<rect x="1420" y="466" width="2" height="1" fill="#000"/>
<text x="1425" y="470" font-size="9.8" fill="#000" textLength="32.8" lengthAdjust="spacingAndGlyphs">0.67710</text>
<rect x="1420" y="499" width="2" height="1" fill="#000"/>
<text x="1425" y="503" font-size="9.8" fill="#000" textLength="32.8" lengthAdjust="spacingAndGlyphs">0.67360</text>
<rect x="1420" y="532" width="2" height="1" fill="#000"/>
<text x="1425" y="536" font-size="9.8" fill="#000" textLength="32.8" lengthAdjust="spacingAndGlyphs">0.67010</text>
<rect x="1420" y="565" width="2" height="1" fill="#000"/>
<text x="1425" y="569" font-size="9.8" fill="#000" textLength="32.8" lengthAdjust="spacingAndGlyphs">0.66660</text>
<rect x="1421" y="149" width="41" height="11" fill="#E60000"/>
<text x="1425" y="158.2" font-size="9.8" fill="#fff" textLength="32.8" lengthAdjust="spacingAndGlyphs">0.71005</text>
<rect x="1421" y="243" width="41" height="11" fill="#E60000"/>
<text x="1425" y="252.2" font-size="9.8" fill="#fff" textLength="32.8" lengthAdjust="spacingAndGlyphs">0.70002</text>
<rect x="1421" y="370" width="41" height="11" fill="#E60000"/>
<text x="1425" y="379.2" font-size="9.8" fill="#fff" textLength="32.8" lengthAdjust="spacingAndGlyphs">0.68655</text>
<rect x="1421" y="479" width="41" height="11" fill="#12EE12"/>
<text x="1425" y="488.2" font-size="9.8" fill="#fff" textLength="32.8" lengthAdjust="spacingAndGlyphs">0.67501</text>
<rect x="1421" y="506" width="41" height="11" fill="#000"/>
<text x="1425" y="515.2" font-size="9.8" fill="#fff" textLength="32.8" lengthAdjust="spacingAndGlyphs">0.67214</text>
<rect x="1421" y="550" width="41" height="11" fill="#0000DC"/>
<text x="1425" y="559.2" font-size="9.8" fill="#fff" textLength="32.8" lengthAdjust="spacingAndGlyphs">0.66754</text>
<text x="8.5" y="583.1" font-size="9.8" fill="#000" textLength="153.4" lengthAdjust="spacingAndGlyphs">MACD(12,26,9) -0.003390 -0.003642</text>
<g shape-rendering="crispEdges">
<rect x="4" y="602" width="1" height="6" fill="#C4C4C4"/>
<rect x="12" y="602" width="1" height="5" fill="#C4C4C4"/>
<rect x="20" y="602" width="1" height="5" fill="#C4C4C4"/>
<rect x="28" y="602" width="1" height="4" fill="#C4C4C4"/>
<rect x="36" y="602" width="1" height="2" fill="#C4C4C4"/>
<rect x="44" y="602" width="1" height="1" fill="#C4C4C4"/>
<rect x="52" y="601" width="1" height="1" fill="#C4C4C4"/>
<rect x="60" y="601" width="1" height="1" fill="#C4C4C4"/>
<rect x="68" y="601" width="1" height="1" fill="#C4C4C4"/>
<rect x="140" y="601" width="1" height="1" fill="#C4C4C4"/>
<rect x="148" y="592" width="1" height="10" fill="#C4C4C4"/>
<rect x="156" y="592" width="1" height="10" fill="#C4C4C4"/>
<rect x="164" y="588" width="1" height="14" fill="#C4C4C4"/>
<rect x="172" y="585" width="1" height="17" fill="#C4C4C4"/>
<rect x="180" y="582" width="1" height="20" fill="#C4C4C4"/>
<rect x="188" y="581" width="1" height="21" fill="#C4C4C4"/>
<rect x="196" y="580" width="1" height="22" fill="#C4C4C4"/>
<rect x="204" y="582" width="1" height="20" fill="#C4C4C4"/>
<rect x="212" y="583" width="1" height="19" fill="#C4C4C4"/>
<rect x="220" y="586" width="1" height="16" fill="#C4C4C4"/>
<rect x="228" y="591" width="1" height="11" fill="#C4C4C4"/>
<rect x="236" y="600" width="1" height="2" fill="#C4C4C4"/>
<rect x="244" y="602" width="1" height="10" fill="#C4C4C4"/>
<rect x="252" y="602" width="1" height="15" fill="#C4C4C4"/>
<rect x="260" y="602" width="1" height="17" fill="#C4C4C4"/>
<rect x="268" y="602" width="1" height="19" fill="#C4C4C4"/>
<rect x="276" y="602" width="1" height="20" fill="#C4C4C4"/>
<rect x="284" y="602" width="1" height="24" fill="#C4C4C4"/>
<rect x="292" y="602" width="1" height="29" fill="#C4C4C4"/>
<rect x="300" y="602" width="1" height="30" fill="#C4C4C4"/>
<rect x="308" y="602" width="1" height="34" fill="#C4C4C4"/>
<rect x="316" y="602" width="1" height="35" fill="#C4C4C4"/>
<rect x="324" y="602" width="1" height="35" fill="#C4C4C4"/>
<rect x="332" y="602" width="1" height="35" fill="#C4C4C4"/>
<rect x="340" y="602" width="1" height="35" fill="#C4C4C4"/>
<rect x="348" y="602" width="1" height="34" fill="#C4C4C4"/>
<rect x="356" y="602" width="1" height="34" fill="#C4C4C4"/>
<rect x="364" y="602" width="1" height="37" fill="#C4C4C4"/>
<rect x="372" y="602" width="1" height="40" fill="#C4C4C4"/>
<rect x="380" y="602" width="1" height="44" fill="#C4C4C4"/>
<rect x="388" y="602" width="1" height="48" fill="#C4C4C4"/>
<rect x="396" y="602" width="1" height="53" fill="#C4C4C4"/>
<rect x="404" y="602" width="1" height="53" fill="#C4C4C4"/>
<rect x="412" y="602" width="1" height="52" fill="#C4C4C4"/>
<rect x="420" y="602" width="1" height="53" fill="#C4C4C4"/>
<rect x="428" y="602" width="1" height="53" fill="#C4C4C4"/>
<rect x="436" y="602" width="1" height="50" fill="#C4C4C4"/>
<rect x="444" y="602" width="1" height="46" fill="#C4C4C4"/>
<rect x="452" y="602" width="1" height="43" fill="#C4C4C4"/>
<rect x="460" y="602" width="1" height="40" fill="#C4C4C4"/>
<rect x="468" y="602" width="1" height="35" fill="#C4C4C4"/>
<rect x="476" y="602" width="1" height="34" fill="#C4C4C4"/>
<rect x="484" y="602" width="1" height="32" fill="#C4C4C4"/>
<rect x="492" y="602" width="1" height="28" fill="#C4C4C4"/>
<rect x="500" y="602" width="1" height="25" fill="#C4C4C4"/>
<rect x="508" y="602" width="1" height="19" fill="#C4C4C4"/>
<rect x="516" y="602" width="1" height="12" fill="#C4C4C4"/>
<rect x="524" y="602" width="1" height="9" fill="#C4C4C4"/>
<rect x="532" y="602" width="1" height="4" fill="#C4C4C4"/>
<rect x="540" y="602" width="1" height="1" fill="#C4C4C4"/>
<rect x="548" y="599" width="1" height="3" fill="#C4C4C4"/>
<rect x="556" y="600" width="1" height="2" fill="#C4C4C4"/>
<rect x="564" y="601" width="1" height="1" fill="#C4C4C4"/>
<rect x="572" y="601" width="1" height="1" fill="#C4C4C4"/>
<rect x="580" y="602" width="1" height="2" fill="#C4C4C4"/>
<rect x="588" y="602" width="1" height="12" fill="#C4C4C4"/>
<rect x="596" y="602" width="1" height="16" fill="#C4C4C4"/>
<rect x="604" y="602" width="1" height="22" fill="#C4C4C4"/>
<rect x="612" y="602" width="1" height="24" fill="#C4C4C4"/>
<rect x="620" y="602" width="1" height="24" fill="#C4C4C4"/>
<rect x="628" y="602" width="1" height="21" fill="#C4C4C4"/>
<rect x="636" y="602" width="1" height="16" fill="#C4C4C4"/>
<rect x="644" y="602" width="1" height="13" fill="#C4C4C4"/>
<rect x="652" y="602" width="1" height="7" fill="#C4C4C4"/>
<rect x="660" y="602" width="1" height="4" fill="#C4C4C4"/>
<rect x="668" y="601" width="1" height="1" fill="#C4C4C4"/>
<rect x="676" y="595" width="1" height="7" fill="#C4C4C4"/>
<rect x="684" y="589" width="1" height="13" fill="#C4C4C4"/>
<rect x="692" y="584" width="1" height="18" fill="#C4C4C4"/>
<rect x="700" y="586" width="1" height="16" fill="#C4C4C4"/>
<rect x="708" y="585" width="1" height="17" fill="#C4C4C4"/>
<rect x="716" y="581" width="1" height="21" fill="#C4C4C4"/>
<rect x="724" y="579" width="1" height="23" fill="#C4C4C4"/>
<rect x="732" y="581" width="1" height="21" fill="#C4C4C4"/>
<rect x="740" y="583" width="1" height="19" fill="#C4C4C4"/>
<rect x="748" y="586" width="1" height="16" fill="#C4C4C4"/>
<rect x="756" y="592" width="1" height="10" fill="#C4C4C4"/>
<rect x="764" y="595" width="1" height="7" fill="#C4C4C4"/>
<rect x="772" y="595" width="1" height="7" fill="#C4C4C4"/>
<rect x="780" y="591" width="1" height="11" fill="#C4C4C4"/>
<rect x="788" y="587" width="1" height="15" fill="#C4C4C4"/>
<rect x="796" y="585" width="1" height="17" fill="#C4C4C4"/>
<rect x="804" y="584" width="1" height="18" fill="#C4C4C4"/>
<rect x="812" y="584" width="1" height="18" fill="#C4C4C4"/>
<rect x="820" y="579" width="1" height="23" fill="#C4C4C4"/>
<rect x="828" y="578" width="1" height="24" fill="#C4C4C4"/>
<rect x="836" y="577" width="1" height="25" fill="#C4C4C4"/>
<rect x="844" y="578" width="1" height="24" fill="#C4C4C4"/>
<rect x="852" y="581" width="1" height="21" fill="#C4C4C4"/>
<rect x="860" y="587" width="1" height="15" fill="#C4C4C4"/>
<rect x="868" y="593" width="1" height="9" fill="#C4C4C4"/>
<rect x="876" y="601" width="1" height="1" fill="#C4C4C4"/>
<rect x="884" y="602" width="1" height="7" fill="#C4C4C4"/>
<rect x="892" y="602" width="1" height="13" fill="#C4C4C4"/>
<rect x="900" y="602" width="1" height="20" fill="#C4C4C4"/>
<rect x="908" y="602" width="1" height="28" fill="#C4C4C4"/>
<rect x="916" y="602" width="1" height="38" fill="#C4C4C4"/>
<rect x="924" y="602" width="1" height="44" fill="#C4C4C4"/>
<rect x="932" y="602" width="1" height="51" fill="#C4C4C4"/>
<rect x="940" y="602" width="1" height="58" fill="#C4C4C4"/>
<rect x="948" y="602" width="1" height="63" fill="#C4C4C4"/>
<rect x="956" y="602" width="1" height="66" fill="#C4C4C4"/>
<rect x="964" y="602" width="1" height="63" fill="#C4C4C4"/>
<rect x="972" y="602" width="1" height="61" fill="#C4C4C4"/>
<rect x="980" y="602" width="1" height="61" fill="#C4C4C4"/>
<rect x="988" y="602" width="1" height="61" fill="#C4C4C4"/>
<rect x="996" y="602" width="1" height="58" fill="#C4C4C4"/>
<rect x="1004" y="602" width="1" height="59" fill="#C4C4C4"/>
<rect x="1012" y="602" width="1" height="55" fill="#C4C4C4"/>
<rect x="1020" y="602" width="1" height="52" fill="#C4C4C4"/>
<rect x="1028" y="602" width="1" height="49" fill="#C4C4C4"/>
<rect x="1036" y="602" width="1" height="49" fill="#C4C4C4"/>
<rect x="1044" y="602" width="1" height="46" fill="#C4C4C4"/>
<rect x="1052" y="602" width="1" height="43" fill="#C4C4C4"/>
<rect x="1060" y="602" width="1" height="42" fill="#C4C4C4"/>
<rect x="1068" y="602" width="1" height="41" fill="#C4C4C4"/>
<rect x="1076" y="602" width="1" height="44" fill="#C4C4C4"/>
<rect x="1084" y="602" width="1" height="40" fill="#C4C4C4"/>
<rect x="1092" y="602" width="1" height="38" fill="#C4C4C4"/>
<rect x="1100" y="602" width="1" height="38" fill="#C4C4C4"/>
<rect x="1108" y="602" width="1" height="37" fill="#C4C4C4"/>
<rect x="1116" y="602" width="1" height="36" fill="#C4C4C4"/>
</g>
<polyline shape-rendering="crispEdges" points="4.5,622.3 12.5,618 20.5,616.5 28.5,614.8 36.5,612.3 44.5,609.4 52.5,608 60.5,606.8 68.5,605 76.5,604 84.5,603.6 92.5,603 100.5,602.3 108.5,602.3 116.5,602.3 124.5,602.3 132.5,601.4 140.5,600.6 148.5,599 156.5,598.4 164.5,595.6 172.5,594 180.5,592.2 188.5,589 196.5,588 204.5,586 212.5,584.2 220.5,584.2 228.5,583.4 236.5,584.7 244.5,587.6 252.5,592.2 260.5,596.4 268.5,601.4 276.5,605.6 284.5,610.6 292.5,616.5 300.5,620.6 308.5,624 316.5,626.5 324.5,630.2 332.5,631.8 340.5,634.3 348.5,635.3 356.5,636.2 364.5,637 372.5,639.5 380.5,640.4 388.5,641 396.5,643.2 404.5,644.5 412.5,646.9 420.5,649.5 428.5,650.7 436.5,652 444.5,653.2 452.5,653.2 460.5,652 468.5,650.2 476.5,647.9 484.5,646.2 492.5,643.2 500.5,640.2 508.5,635.7 516.5,632.3 524.5,628.5 532.5,624.8 540.5,621.1 548.5,616.5 556.5,612.3 564.5,608.9 572.5,606.1 580.5,604.4 588.5,604.3 596.5,605.1 604.5,607.3 612.5,608.9 620.5,612.3 628.5,614.8 636.5,617.6 644.5,618.6 652.5,619.3 660.5,618.6 668.5,616.5 676.5,613.1 684.5,608.9 692.5,604.3 700.5,599.8 708.5,596.4 716.5,592.7 724.5,589.4 732.5,586.4 740.5,584.2 748.5,583.4 756.5,583.4 764.5,584.7 772.5,585 780.5,586.4 788.5,587.6 796.5,587.6 804.5,588.4 812.5,588.4 820.5,587.2 828.5,586.4 836.5,583.9 844.5,582.7 852.5,581.4 860.5,581.4 868.5,582.2 876.5,584.2 884.5,587.7 892.5,591.7 900.5,596.1 908.5,601.4 916.5,609.8 924.5,616.5 932.5,624.8 940.5,631.5 948.5,638.2 956.5,644.9 964.5,650.5 972.5,654.4 980.5,658.2 988.5,661.2 996.5,662.4 1004.5,663.3 1012.5,663.3 1020.5,662.4 1028.5,659.9 1036.5,658.6 1044.5,657.4 1052.5,654.9 1060.5,652.4 1068.5,651 1076.5,649 1084.5,647.7 1092.5,646.2 1100.5,644.5 1108.5,643.2 1116.5,642" fill="none" stroke="#BE1034" stroke-width="0.95" stroke-dasharray="3.5 3"/>
<rect x="636" y="571" width="1" height="6" fill="#C8143C"/>
<rect x="1420" y="572" width="1" height="1" fill="#000"/>
<text x="1423.3" y="581" font-size="9.8" fill="#000" textLength="37.6" lengthAdjust="spacingAndGlyphs">0.002574</text>
<rect x="1420" y="601" width="2" height="1" fill="#000"/>
<text x="1423.7" y="605" font-size="9.8" fill="#000" textLength="17" lengthAdjust="spacingAndGlyphs">0.00</text>
<rect x="1420" y="672" width="1" height="1" fill="#000"/>
<text x="1423.3" y="670" font-size="9.8" fill="#000" textLength="40.5" lengthAdjust="spacingAndGlyphs">-0.006326</text>
<text x="8.5" y="688.2" font-size="9.8" fill="#000" textLength="67.7" lengthAdjust="spacingAndGlyphs">RSI(14) 38.3743</text>
<line x1="4" y1="715.5" x2="1419" y2="715.5" stroke="#C0C0C0" stroke-width="1" stroke-dasharray="3 3.5"/>
<line x1="4" y1="766.5" x2="1419" y2="766.5" stroke="#C0C0C0" stroke-width="1" stroke-dasharray="3 3.5"/>
<polyline shape-rendering="crispEdges" points="4.5,733.5 12.5,739.7 20.5,744.4 28.5,744.4 36.5,736.8 44.5,733.3 52.5,744.4 60.5,744.4 68.5,740.2 76.5,738.3 84.5,738.3 92.5,749.4 100.5,737.5 108.5,739.3 116.5,740.5 124.5,740.5 132.5,736.3 140.5,735.2 148.5,727.1 156.5,737.2 164.5,729.3 172.5,729.3 180.5,729.3 188.5,731.3 196.5,729.3 204.5,736.3 212.5,736.3 220.5,740.2 228.5,748.9 236.5,762.6 244.5,761.4 252.5,755.6 260.5,754.2 268.5,751.4 276.5,752.5 284.5,758.1 292.5,762.2 300.5,755.2 308.5,762.2 316.5,757.6 324.5,753.4 332.5,755.1 340.5,756.4 348.5,753.4 356.5,756.4 364.5,762.2 372.5,764.2 380.5,765.9 388.5,770.3 396.5,773.4 404.5,762.2 412.5,757.6 420.5,762.2 428.5,763.6 436.5,757.2 444.5,748.4 452.5,749.4 460.5,751.4 468.5,749.2 476.5,750.9 484.5,754.5 492.5,744.2 500.5,746.4 508.5,736.3 516.5,731.3 524.5,737.5 532.5,736.3 540.5,729.3 548.5,732.5 556.5,741 564.5,741 572.5,748 580.5,752.2 588.5,760.2 596.5,756.1 604.5,761.4 612.5,752.5 620.5,751 628.5,742.5 636.5,741 644.5,737.2 652.5,733.3 660.5,734.7 668.5,730 676.5,725.5 684.5,722.1 692.5,722.1 700.5,738.5 708.5,732.2 716.5,726.3 724.5,727.5 732.5,738.3 740.5,738.3 748.5,740 756.5,749.4 764.5,742.5 772.5,739.3 780.5,730.2 788.5,731.3 796.5,728.3 804.5,733.3 812.5,735.5 820.5,725.5 828.5,731.3 836.5,731.3 844.5,734.7 852.5,741 860.5,745.2 868.5,749.7 876.5,757.2 884.5,757.2 892.5,758.6 900.5,762.2 908.5,765.9 916.5,771.4 924.5,771.4 932.5,772.8 940.5,775.3 948.5,775.3 956.5,775.3 964.5,758.1 972.5,761.1 980.5,763.6 988.5,766.4 996.5,754.2 1004.5,761.4 1012.5,756.7 1020.5,753.4 1028.5,753.4 1036.5,758.6 1044.5,753.9 1052.5,750.2 1060.5,755.1 1068.5,756.4 1076.5,763.4 1084.5,747.5 1092.5,750.2 1100.5,752.2 1108.5,753.6 1116.5,755.2" fill="none" stroke="#3A84CC" stroke-width="0.95"/>
<rect x="1420" y="677" width="1" height="1" fill="#000"/>
<text x="1423.7" y="686" font-size="9.8" fill="#000" textLength="13.7" lengthAdjust="spacingAndGlyphs">100</text>
<text x="1423" y="719" font-size="9.8" fill="#000" textLength="9.2" lengthAdjust="spacingAndGlyphs">70</text>
<text x="1423" y="770" font-size="9.8" fill="#000" textLength="9.2" lengthAdjust="spacingAndGlyphs">30</text>
<rect x="1420" y="804" width="2" height="1" fill="#000"/>
<text x="1423.5" y="802" font-size="9.8" fill="#000" textLength="4.6" lengthAdjust="spacingAndGlyphs">0</text>
<rect x="4" y="806" width="1" height="3" fill="#000"/>
<text x="3.5" y="818" font-size="9.8" fill="#000" textLength="52.04" lengthAdjust="spacingAndGlyphs">20 Mar 2019</text>
<rect x="68" y="806" width="1" height="3" fill="#000"/>
<text x="67.5" y="818" font-size="9.8" fill="#000" textLength="52.04" lengthAdjust="spacingAndGlyphs">29 Mar 2019</text>
<rect x="132" y="806" width="1" height="3" fill="#000"/>
<text x="131.5" y="818" font-size="9.8" fill="#000" textLength="44.84" lengthAdjust="spacingAndGlyphs">8 Apr 2019</text>
<rect x="196" y="806" width="1" height="3" fill="#000"/>
<text x="195.5" y="818" font-size="9.8" fill="#000" textLength="49.99" lengthAdjust="spacingAndGlyphs">17 Apr 2019</text>
<rect x="260" y="806" width="1" height="3" fill="#000"/>
<text x="259.5" y="818" font-size="9.8" fill="#000" textLength="49.99" lengthAdjust="spacingAndGlyphs">28 Apr 2019</text>
<rect x="324" y="806" width="1" height="3" fill="#000"/>
<text x="323.5" y="818" font-size="9.8" fill="#000" textLength="48.44" lengthAdjust="spacingAndGlyphs">7 May 2019</text>
<rect x="388" y="806" width="1" height="3" fill="#000"/>
<text x="387.5" y="818" font-size="9.8" fill="#000" textLength="53.59" lengthAdjust="spacingAndGlyphs">16 May 2019</text>
<rect x="452" y="806" width="1" height="3" fill="#000"/>
<text x="451.5" y="818" font-size="9.8" fill="#000" textLength="53.59" lengthAdjust="spacingAndGlyphs">26 May 2019</text>
<rect x="516" y="806" width="1" height="3" fill="#000"/>
<text x="515.5" y="818" font-size="9.8" fill="#000" textLength="45.87" lengthAdjust="spacingAndGlyphs">4 Jun 2019</text>
<rect x="580" y="806" width="1" height="3" fill="#000"/>
<text x="579.5" y="818" font-size="9.8" fill="#000" textLength="51.03" lengthAdjust="spacingAndGlyphs">13 Jun 2019</text>
<rect x="644" y="806" width="1" height="3" fill="#000"/>
<text x="643.5" y="818" font-size="9.8" fill="#000" textLength="51.03" lengthAdjust="spacingAndGlyphs">23 Jun 2019</text>
<rect x="708" y="806" width="1" height="3" fill="#000"/>
<text x="707.5" y="818" font-size="9.8" fill="#000" textLength="42.78" lengthAdjust="spacingAndGlyphs">2 Jul 2019</text>
<rect x="772" y="806" width="1" height="3" fill="#000"/>
<text x="771.5" y="818" font-size="9.8" fill="#000" textLength="47.24" lengthAdjust="spacingAndGlyphs">11 Jul 2019</text>
<rect x="836" y="806" width="1" height="3" fill="#000"/>
<text x="835.5" y="818" font-size="9.8" fill="#000" textLength="47.93" lengthAdjust="spacingAndGlyphs">21 Jul 2019</text>
<rect x="900" y="806" width="1" height="3" fill="#000"/>
<text x="899.5" y="818" font-size="9.8" fill="#000" textLength="47.93" lengthAdjust="spacingAndGlyphs">30 Jul 2019</text>
<rect x="964" y="806" width="1" height="3" fill="#000"/>
<text x="963.5" y="818" font-size="9.8" fill="#000" textLength="46.91" lengthAdjust="spacingAndGlyphs">8 Aug 2019</text>
<rect x="1028" y="806" width="1" height="3" fill="#000"/>
<text x="1027.5" y="818" font-size="9.8" fill="#000" textLength="52.06" lengthAdjust="spacingAndGlyphs">18 Aug 2019</text>
<rect x="1092" y="806" width="1" height="3" fill="#000"/>
<text x="1091.5" y="818" font-size="9.8" fill="#000" textLength="52.06" lengthAdjust="spacingAndGlyphs">27 Aug 2019</text>
<rect x="0" y="826" width="1466" height="1" fill="#E3E3E3"/>
<rect x="0" y="827" width="1466" height="19" fill="#F0F0F0"/>
<rect x="0" y="828" width="113" height="1" fill="#000"/>
<rect x="221" y="828" width="1245" height="1" fill="#000"/>
<rect x="113" y="827" width="108" height="19" fill="#fff"/>
<rect x="113" y="828" width="1" height="18" fill="#000"/>
<rect x="220" y="828" width="1" height="18" fill="#000"/>
<text x="16" y="843.5" font-size="13.5" fill="#707070" textLength="85" lengthAdjust="spacingAndGlyphs">EURUSD-,Daily</text>
<text x="122" y="843.5" font-size="13.5" fill="#000" textLength="88" lengthAdjust="spacingAndGlyphs">AUDUSD-,Daily</text>
<text x="233" y="843.5" font-size="13.5" fill="#707070" textLength="84" lengthAdjust="spacingAndGlyphs">USDCHF-,Daily</text>
<text x="340" y="843.5" font-size="13.5" fill="#707070" textLength="86" lengthAdjust="spacingAndGlyphs">USDCAD-,Daily</text>
<text x="449" y="843.5" font-size="13.5" fill="#707070" textLength="88" lengthAdjust="spacingAndGlyphs">USDCNH-,Daily</text>
<text x="560" y="843.5" font-size="13.5" fill="#707070" textLength="97" lengthAdjust="spacingAndGlyphs">EURCHF-,Weekly</text>
<text x="680" y="843.5" font-size="13.5" fill="#707070" textLength="101" lengthAdjust="spacingAndGlyphs">XAUUSD-,Weekly</text>
<text x="804" y="843.5" font-size="13.5" fill="#707070" textLength="73" lengthAdjust="spacingAndGlyphs">GBPUSD-,H1</text>
<text x="900" y="843.5" font-size="13.5" fill="#707070" textLength="57" lengthAdjust="spacingAndGlyphs">UKOil-,H1</text>
<text x="979" y="843.5" font-size="13.5" fill="#707070" textLength="83" lengthAdjust="spacingAndGlyphs">USDX-,Weekly</text>
<rect x="329" y="833" width="1" height="12" fill="#808080"/>
<rect x="438" y="833" width="1" height="12" fill="#808080"/>
<rect x="549" y="833" width="1" height="12" fill="#808080"/>
<rect x="669" y="833" width="1" height="12" fill="#808080"/>
<rect x="793" y="833" width="1" height="12" fill="#808080"/>
<rect x="889" y="833" width="1" height="12" fill="#808080"/>
<rect x="969" y="833" width="1" height="12" fill="#808080"/>
<rect x="1073" y="833" width="1" height="12" fill="#808080"/>
<polygon points="1438.5,833 1438.5,840 1434.5,836.5" fill="#A0A0A0"/>
<polygon points="1454,833 1454,840 1458,836.5" fill="#A0A0A0"/>
</svg>
</body></html>
